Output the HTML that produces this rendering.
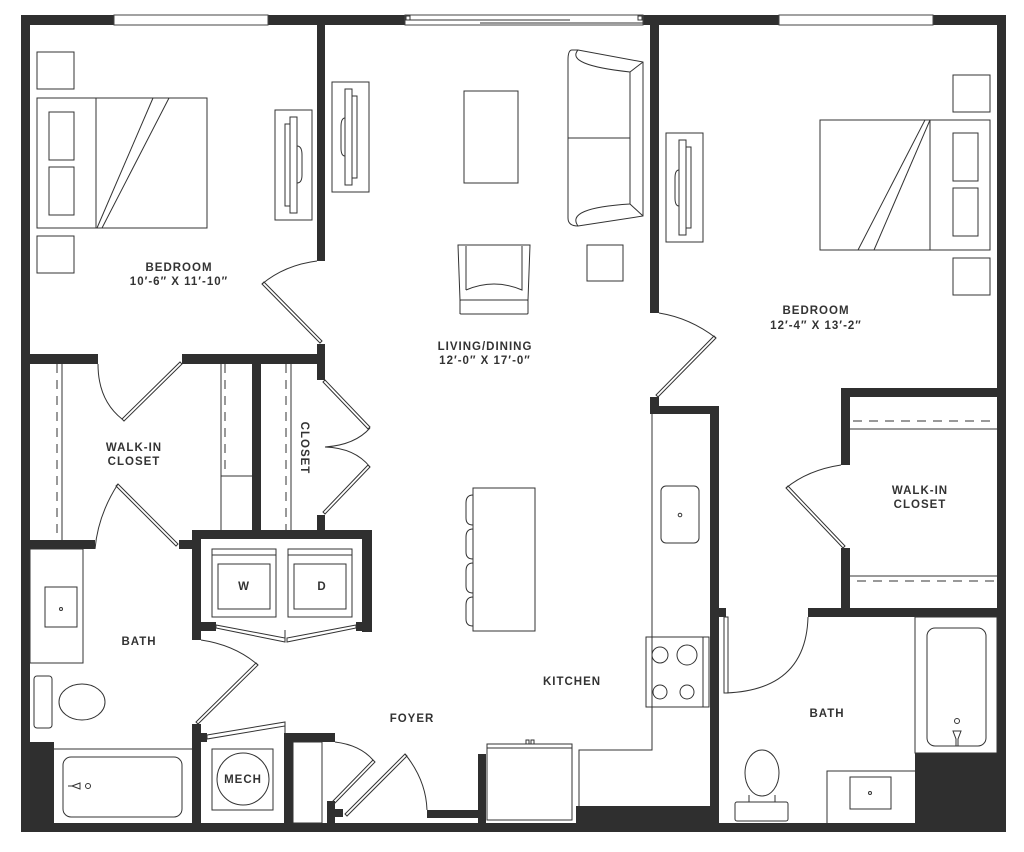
<!DOCTYPE html>
<html><head><meta charset="utf-8"><style>
html,body{margin:0;padding:0;background:#fff;}
svg{display:block;}
text{font-family:"Liberation Sans",sans-serif;font-size:11.5px;fill:#333;letter-spacing:1px;text-anchor:middle;font-weight:bold;}
</style></head><body>
<svg width="1024" height="852" viewBox="0 0 1024 852" xmlns="http://www.w3.org/2000/svg">
<g fill="#2f2f2f">
<!-- outer -->
<rect x="21" y="15" width="985" height="10"/>
<rect x="21" y="15" width="9" height="817"/>
<rect x="997" y="15" width="9" height="817"/>
<rect x="21" y="823" width="985" height="9"/>
<!-- left bedroom right wall -->
<rect x="317" y="25" width="8" height="236"/>
<rect x="317" y="344" width="8" height="36"/>
<rect x="30" y="354" width="68" height="10"/>
<rect x="182" y="354" width="143" height="10"/>
<rect x="252" y="364" width="9" height="166"/>
<rect x="317" y="515" width="8" height="15"/>
<!-- laundry -->
<rect x="192" y="530" width="180" height="9"/>
<rect x="192" y="530" width="9" height="110"/>
<rect x="362" y="530" width="10" height="102"/>
<rect x="201" y="622" width="15" height="9"/>
<rect x="356" y="622" width="8" height="9"/>
<!-- left walk-in bottom -->
<rect x="30" y="540" width="65" height="9"/>
<rect x="179" y="540" width="22" height="9"/>
<!-- bath/mech -->
<rect x="192" y="724" width="9" height="108"/>
<rect x="201" y="733" width="6" height="9"/>
<rect x="284" y="733" width="9" height="99"/>
<rect x="284" y="733" width="51" height="9"/>
<rect x="327" y="801" width="8" height="31"/>
<rect x="335" y="809" width="8" height="8"/>
<rect x="21" y="742" width="33" height="90"/>
<!-- foyer/kitchen -->
<rect x="427" y="810" width="51" height="8"/>
<rect x="478" y="754" width="8" height="78"/>
<rect x="576" y="806" width="143" height="26"/>
<!-- right bedroom left wall -->
<rect x="650" y="25" width="9" height="288"/>
<rect x="650" y="397" width="9" height="17"/>
<rect x="650" y="406" width="69" height="8"/>
<rect x="710" y="406" width="9" height="426"/>
<rect x="719" y="608" width="7" height="9"/>
<rect x="808" y="608" width="198" height="9"/>
<!-- right closet -->
<rect x="841" y="388" width="165" height="9"/>
<rect x="841" y="388" width="9" height="77"/>
<rect x="841" y="548" width="9" height="60"/>
<rect x="915" y="753" width="91" height="79"/>
</g>
<g fill="#fff" stroke="#444" stroke-width="1">
<!-- windows -->
<rect x="114" y="15" width="154" height="10"/>
<rect x="779" y="15" width="154" height="10"/>
<rect x="405" y="15" width="238" height="10"/>
</g>
<g fill="none" stroke="#333" stroke-width="1">
<line x1="405" y1="20" x2="570" y2="20"/><line x1="480" y1="23" x2="643" y2="23"/>
<rect x="406" y="16" width="4" height="4"/><rect x="638" y="16" width="4" height="4"/>
<!-- left bedroom furniture -->
<rect x="37" y="52" width="37" height="37"/>
<rect x="37" y="98" width="170" height="130"/>
<line x1="96" y1="98" x2="96" y2="228"/>
<rect x="49" y="112" width="25" height="48"/><rect x="49" y="167" width="25" height="48"/>
<line x1="153" y1="98" x2="97" y2="228"/><line x1="169" y1="98" x2="102" y2="228"/>
<rect x="37" y="236" width="37" height="37"/>
<rect x="275" y="110" width="37" height="110"/>
<rect x="290" y="117" width="7" height="96"/><rect x="285" y="124" width="5" height="82"/>
<path d="M297 146 Q302 146 302 155 L302 175 Q302 183 297 183"/>
<!-- living -->
<rect x="332" y="82" width="37" height="110"/>
<rect x="345" y="89" width="7" height="96"/><rect x="352" y="96" width="5" height="82"/>
<path d="M345 118 Q341 118 341 127 L341 148 Q341 156 345 156"/>
<rect x="464" y="91" width="54" height="92"/>
<path d="M572 50 Q568 50 568 60 L568 218 Q568 226 578 226 L643 216 L643 62 L578 50 Z"/>
<line x1="568" y1="138" x2="630" y2="138"/>
<path d="M630 72 L643 62 M630 72 L630 204 L643 216"/>
<path d="M578 50 Q565 65 630 72 M578 226 Q565 208 630 204"/>
<rect x="587" y="245" width="36" height="36"/>
<path d="M458 245 L530 245 L528 300 L460 300 Z"/><line x1="460" y1="300" x2="460" y2="314"/>
<rect x="460" y="300" width="68" height="14" rx="1"/>
<path d="M466 290 Q494 278 522 290 L522 246 M466 290 L466 246"/>
<!-- right bedroom -->
<rect x="666" y="133" width="37" height="109"/>
<rect x="679" y="140" width="7" height="95"/><rect x="686" y="147" width="5" height="81"/>
<path d="M679 170 Q675 170 675 178 L675 198 Q675 206 679 206"/>
<rect x="820" y="120" width="170" height="130"/>
<line x1="930" y1="120" x2="930" y2="250"/>
<rect x="953" y="133" width="25" height="48"/><rect x="953" y="188" width="25" height="48"/>
<line x1="925" y1="120" x2="858" y2="250"/><line x1="930" y1="120" x2="874" y2="250"/>
<rect x="953" y="75" width="37" height="37"/><rect x="953" y="258" width="37" height="37"/>
<!-- doors -->
<path d="M317 261 Q285 265 262 284"/>
<path d="M262 284 L320 343 L322 341 L264 282 Z"/>
<path d="M659 313 Q690 318 716 338"/>
<path d="M716 338 L658 397 L656 395 L714 336 Z"/>
<path d="M98 364 Q98 400 122 419"/>
<path d="M122 419 L180 362 L182 364 L124 421 Z"/>
<path d="M95 549 Q98 515 118 484"/>
<path d="M118 484 L178 544 L176 546 L116 486 Z"/>
<path d="M325 380 L370 427 L368 429 L323 382 Z"/><path d="M325 514 L370 467 L368 465 L323 512 Z"/>
<path d="M370 428 Q355 445 325 447 Q355 448 370 467"/>
<path d="M201 640 Q235 645 258 665"/>
<path d="M258 665 L198 724 L196 722 L256 663 Z"/>
<path d="M207 735 L285 722 L285 726 L207 739 Z"/><line x1="285" y1="722" x2="285" y2="733"/>
<path d="M335 742 Q360 745 373 760"/>
<path d="M373 760 L332 802 L334 804 L375 762 Z"/>
<path d="M427 810 Q426 780 405 754"/>
<path d="M405 754 L345 814 L347 816 L407 756 Z"/>
<path d="M216 628 L285 642 L285 638 L216 625 Z"/><path d="M356 628 L287 642 L287 638 L356 625 Z"/>
<line x1="285" y1="630" x2="285" y2="642"/>
<path d="M841 465 Q808 470 786 488"/>
<path d="M786 488 L843 548 L845 546 L788 486 Z"/>
<path d="M808 617 Q806 690 726 693"/>
<rect x="724" y="617" width="4" height="76"/>
<!-- closets -->
<line x1="62" y1="364" x2="62" y2="540"/><line x1="57" y1="364" x2="57" y2="540" stroke-dasharray="9,7"/>
<line x1="221" y1="364" x2="221" y2="530"/><line x1="225" y1="364" x2="225" y2="476" stroke-dasharray="9,7"/>
<line x1="221" y1="476" x2="252" y2="476"/>
<line x1="291" y1="364" x2="291" y2="530"/><line x1="286" y1="364" x2="286" y2="530" stroke-dasharray="9,7"/>
<line x1="850" y1="429" x2="997" y2="429"/><line x1="853" y1="421" x2="997" y2="421" stroke-dasharray="9,7"/>
<line x1="850" y1="576" x2="997" y2="576"/><line x1="857" y1="581" x2="997" y2="581" stroke-dasharray="9,7"/>
<!-- laundry -->
<rect x="212" y="549" width="64" height="68"/><line x1="212" y1="555" x2="276" y2="555"/>
<rect x="218" y="564" width="52" height="45"/>
<rect x="288" y="549" width="64" height="68"/><line x1="288" y1="555" x2="352" y2="555"/>
<rect x="294" y="564" width="52" height="45"/>
<!-- left bath -->
<rect x="30" y="549" width="53" height="114"/>
<rect x="45" y="587" width="32" height="40"/><circle cx="61" cy="609" r="1.5"/>
<rect x="34" y="676" width="18" height="52" rx="3"/>
<ellipse cx="82" cy="702" rx="23" ry="18"/>
<line x1="54" y1="749" x2="192" y2="749"/>
<rect x="63" y="757" width="119" height="60" rx="8"/>
<circle cx="88" cy="786" r="2.5"/><path d="M72 786 L80 783 L80 789 Z M68 786 L72 786"/>
<rect x="212" y="749" width="61" height="61"/><circle cx="243" cy="779" r="26"/>
<rect x="293" y="742" width="29" height="81"/>
<!-- kitchen -->
<path d="M652 414 L652 750 L579 750 L579 806"/>
<rect x="661" y="486" width="38" height="57" rx="5"/><circle cx="680" cy="515" r="1.8"/>
<rect x="646" y="637" width="63" height="70"/><line x1="703" y1="637" x2="703" y2="707"/>
<circle cx="660" cy="655" r="8"/><circle cx="687" cy="655" r="10"/>
<circle cx="660" cy="692" r="7"/><circle cx="687" cy="692" r="7"/>
<rect x="487" y="744" width="85" height="76"/><line x1="487" y1="748" x2="572" y2="748"/>
<rect x="526" y="740" width="3" height="4"/><rect x="531" y="740" width="3" height="4"/>
<rect x="473" y="488" width="62" height="143"/>
<path d="M473 495 Q466 495 466 503 L466 518 Q466 525 473 525 M473 529 Q466 529 466 537 L466 552 Q466 559 473 559 M473 563 Q466 563 466 571 L466 586 Q466 593 473 593 M473 597 Q466 597 466 605 L466 619 Q466 626 473 626"/>
<!-- right bath -->
<rect x="915" y="617" width="82" height="136"/>
<rect x="927" y="628" width="59" height="118" rx="8"/>
<circle cx="957" cy="721" r="2.5"/><path d="M953 731 L961 731 L958 739 L958 746 L956 746 L956 739 Z"/>
<ellipse cx="762" cy="773" rx="17" ry="23"/>
<rect x="735" y="802" width="53" height="19" rx="2"/>
<path d="M749 795 L749 802 M775 795 L775 802"/>
<path d="M827 823 L827 771 L915 771"/>
<rect x="850" y="777" width="41" height="32"/><circle cx="870" cy="793" r="1.5"/>
</g>
<text x="179" y="271">BEDROOM</text>
<text x="179" y="285">10′-6″ X 11′-10″</text>
<text x="485" y="350">LIVING/DINING</text>
<text x="485" y="364">12′-0″ X 17′-0″</text>
<text x="816" y="314">BEDROOM</text>
<text x="816" y="329">12′-4″ X 13′-2″</text>
<text x="134" y="451">WALK-IN</text>
<text x="134" y="465">CLOSET</text>
<text x="920" y="494">WALK-IN</text>
<text x="920" y="508">CLOSET</text>
<text x="301" y="448" transform="rotate(90 301 448)">CLOSET</text>
<text x="139" y="645">BATH</text>
<text x="572" y="685">KITCHEN</text>
<text x="412" y="722">FOYER</text>
<text x="827" y="717">BATH</text>
<text x="244" y="590">W</text>
<text x="322" y="590">D</text>
<text x="243" y="783">MECH</text>
</svg>
</body></html>
